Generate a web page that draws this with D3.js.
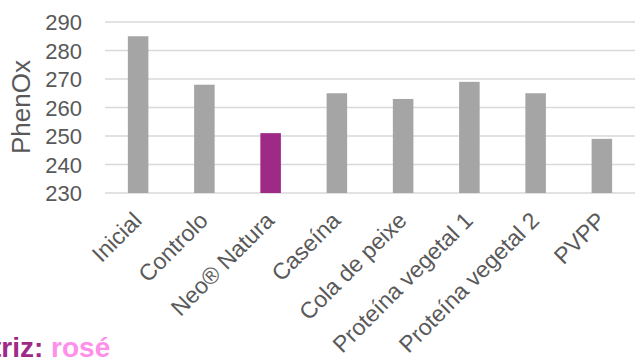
<!DOCTYPE html>
<html><head><meta charset="utf-8">
<script src="https://cdn.jsdelivr.net/npm/d3@7"></script>
<style>html,body{margin:0;padding:0;background:#fff;overflow:hidden}</style>
</head><body><svg id="c" width="635" height="359"></svg>
<script>
const categories = ["Inicial","Controlo","Neo® Natura","Caseína","Cola de peixe","Proteína vegetal 1","Proteína vegetal 2","PVPP"];
const values = [285,268,251,265,263,269,265,249];
const highlight = ["Neo® Natura"];
const yTicks = [230,240,250,260,270,280,290];
const yLabel = "PhenOx";

const svg = d3.select("#c");
const font = "'Liberation Sans', Arial, sans-serif";
const x = d3.scaleBand().domain(categories).range([105,635]).paddingInner(0.69).paddingOuter(0.345);
const y = d3.scaleLinear().domain([230,290]).range([193,22]);

// gridlines
svg.append("g").selectAll("line").data(yTicks).join("line")
  .attr("x1",105).attr("x2",635)
  .attr("y1",d=>y(d)).attr("y2",d=>y(d))
  .attr("stroke","#d9d9d9").attr("stroke-width",1.3);

// bars
svg.append("g").selectAll("rect").data(categories).join("rect")
  .attr("x",d=>x(d)).attr("width",x.bandwidth())
  .attr("y",(d,i)=>y(values[i])).attr("height",(d,i)=>y(230)-y(values[i]))
  .attr("fill",d=>highlight.includes(d)?"#9e2a86":"#a5a5a5");

// y axis labels
const ya = d3.axisLeft(y).tickValues(yTicks).tickSize(0).tickPadding(0);
const yg = svg.append("g").attr("transform","translate(82,0)").call(ya);
yg.select(".domain").remove();
yg.selectAll("text").attr("font-family",font).attr("font-size",22).attr("fill","#595959").attr("dy","0.36em");

// x axis labels
const xa = d3.axisBottom(x).tickSize(0).tickPadding(0);
const xg = svg.append("g").attr("transform","translate(0,193)").call(xa);
xg.select(".domain").remove();
xg.selectAll("text").attr("font-family",font).attr("font-size",23).attr("fill","#595959")
  .attr("text-anchor","end").attr("dy",null).attr("y",0)
  .attr("transform","translate(5,29) rotate(-45)");

// y title
svg.append("text").attr("transform","translate(30,107) rotate(-90)")
  .attr("text-anchor","middle").attr("font-family",font).attr("font-size",26).attr("fill","#595959").text(yLabel);

// bottom text
const t = svg.append("text").attr("x",-8).attr("y",357).attr("font-family",font).attr("font-size",28).attr("font-weight","bold");
t.append("tspan").attr("fill","#9e2a86").text("triz: ");
t.append("tspan").attr("fill","#ff8fe8").text("rosé");
</script></body></html>
